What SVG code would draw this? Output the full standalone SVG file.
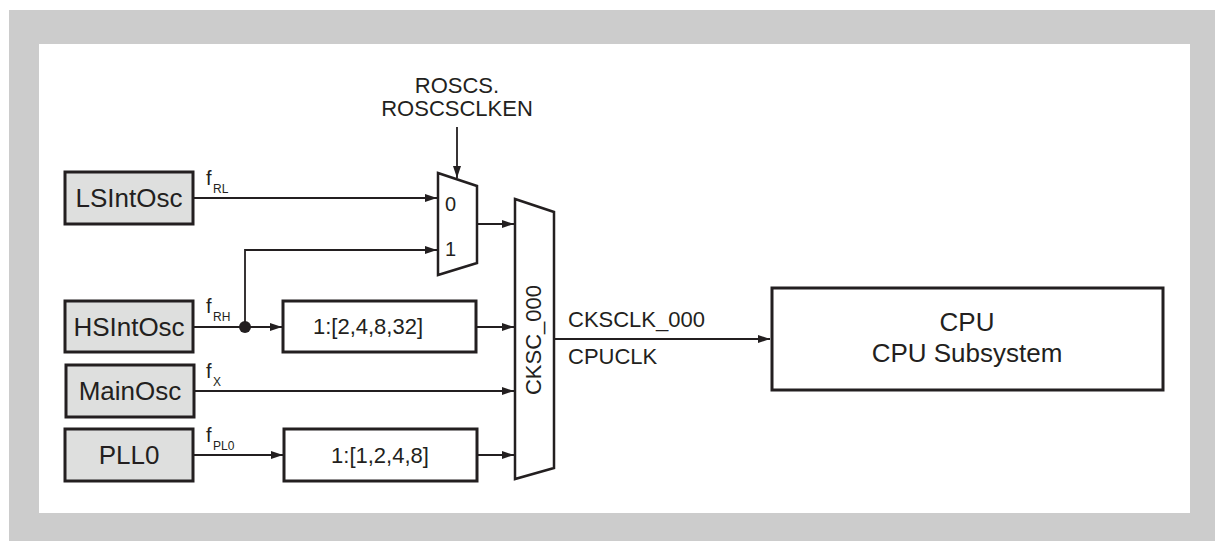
<svg xmlns="http://www.w3.org/2000/svg" width="1215" height="541" viewBox="0 0 1215 541">
<style>
text{font-family:"Liberation Sans",Arial,sans-serif;fill:#231f20}
.src{fill:#dedfde;stroke:#231f20;stroke-width:3}
.box{fill:#fff;stroke:#231f20;stroke-width:3}
.mux{fill:#fff;stroke:#231f20;stroke-width:2.5;stroke-linejoin:miter}
.w{fill:none;stroke:#231f20;stroke-width:1.8}
.nt{font-size:26px;text-anchor:middle}
.lb{font-size:22px}
.f{font-size:20px}
.sub{font-size:12px}
</style>
<defs>
<marker id="ah" viewBox="0 0 12 8" refX="12" refY="4" markerWidth="12" markerHeight="8" markerUnits="userSpaceOnUse" orient="auto">
<path d="M0,0 L12,4 L0,8 Z" fill="#231f20"/>
</marker>
</defs>
<rect x="9" y="10" width="1206" height="531" fill="#cccccc"/>
<rect x="39" y="44" width="1151" height="469" fill="#ffffff"/>

<g id="connectors">
<path class="w" d="M193,198 H437" marker-end="url(#ah)"/>
<path class="w" d="M193,327 H282" marker-end="url(#ah)"/>
<path class="w" d="M245,327 V250 H437" marker-end="url(#ah)"/>
<circle cx="245" cy="327" r="6" fill="#231f20"/>
<path class="w" d="M476,327 H514" marker-end="url(#ah)"/>
<path class="w" d="M477,224 H514" marker-end="url(#ah)"/>
<path class="w" d="M194,391 H514" marker-end="url(#ah)"/>
<path class="w" d="M193,455 H283" marker-end="url(#ah)"/>
<path class="w" d="M477,455 H514" marker-end="url(#ah)"/>
<path class="w" d="M457,127 V178" marker-end="url(#ah)"/>
<path class="w" d="M554,339 H770" marker-end="url(#ah)"/>
<text class="f" x="206" y="185">f</text><text class="sub" x="213" y="193">RL</text>
<text class="f" x="206" y="313">f</text><text class="sub" x="213" y="321">RH</text>
<text class="f" x="206" y="378">f</text><text class="sub" x="213" y="386">X</text>
<text class="f" x="206" y="442">f</text><text class="sub" x="213" y="450">PL0</text>
<text class="lb" x="568" y="327">CKSCLK_000</text>
<text class="lb" x="568" y="364">CPUCLK</text>
</g>

<g id="LSIntOsc">
<rect class="src" x="65" y="172" width="128" height="52"/>
<text class="nt" x="129" y="207">LSIntOsc</text>
</g>
<g id="HSIntOsc">
<rect class="src" x="65" y="301" width="128" height="51"/>
<text class="nt" x="129" y="336">HSIntOsc</text>
</g>
<g id="MainOsc">
<rect class="src" x="66" y="365" width="128" height="52"/>
<text class="nt" x="130" y="400">MainOsc</text>
</g>
<g id="PLL0">
<rect class="src" x="65" y="429" width="128" height="52"/>
<text class="nt" x="129" y="464">PLL0</text>
</g>

<g id="div1">
<rect class="box" x="283" y="301" width="193" height="51"/>
<text class="lb" x="368" y="334" text-anchor="middle">1:[2,4,8,32]</text>
</g>
<g id="div2">
<rect class="box" x="284" y="429" width="193" height="52"/>
<text class="lb" x="380" y="463" text-anchor="middle">1:[1,2,4,8]</text>
</g>

<g id="mux0">
<polygon class="mux" points="438,173 477,186 477,263 438,275"/>
<text class="f" x="445" y="211">0</text>
<text class="f" x="445" y="256">1</text>
<text class="lb" x="457" y="93" text-anchor="middle">ROSCS.</text>
<text class="lb" x="457" y="116" text-anchor="middle">ROSCSCLKEN</text>
</g>

<g id="CKSC_000">
<polygon class="mux" points="515,199 554,212 554,468 515,479"/>
<text class="lb" transform="translate(541,340) rotate(-90)" text-anchor="middle">CKSC_000</text>
</g>

<g id="CPU">
<rect class="box" x="772" y="288" width="391" height="102"/>
<text class="nt" x="967" y="331">CPU</text>
<text class="nt" x="967" y="362">CPU Subsystem</text>
</g>
</svg>
